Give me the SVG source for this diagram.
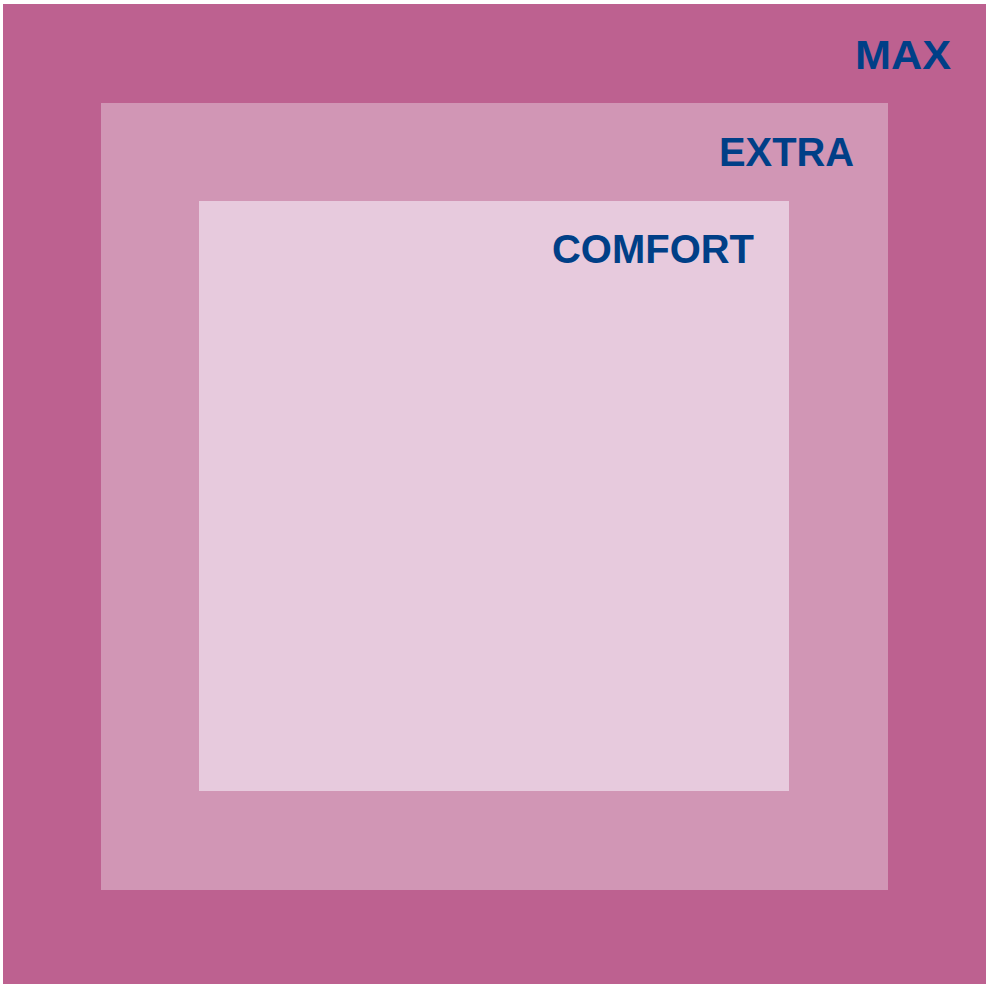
<svg xmlns="http://www.w3.org/2000/svg" width="991" height="984" viewBox="0 0 991 984">
<style>
.lbl{font-family:"Liberation Sans",Arial,sans-serif;font-weight:bold;font-size:41px;fill:#003F87}
</style>
<rect width="991" height="984" fill="#ffffff"/>
<g id="max">
<rect x="3" y="4" width="983" height="980" fill="#BD6190"/>
<text class="lbl" x="855" y="69" textLength="96" lengthAdjust="spacingAndGlyphs">MAX</text>
</g>
<g id="extra">
<rect x="101" y="103" width="787" height="787" fill="#D196B5"/>
<text class="lbl" x="719" y="166" textLength="135" lengthAdjust="spacingAndGlyphs">EXTRA</text>
</g>
<g id="comfort">
<rect x="199" y="201" width="590" height="590" fill="#E7CADD"/>
<text class="lbl" x="552" y="263" textLength="202" lengthAdjust="spacingAndGlyphs">COMFORT</text>
</g>
<g id="connectors"/>
</svg>
